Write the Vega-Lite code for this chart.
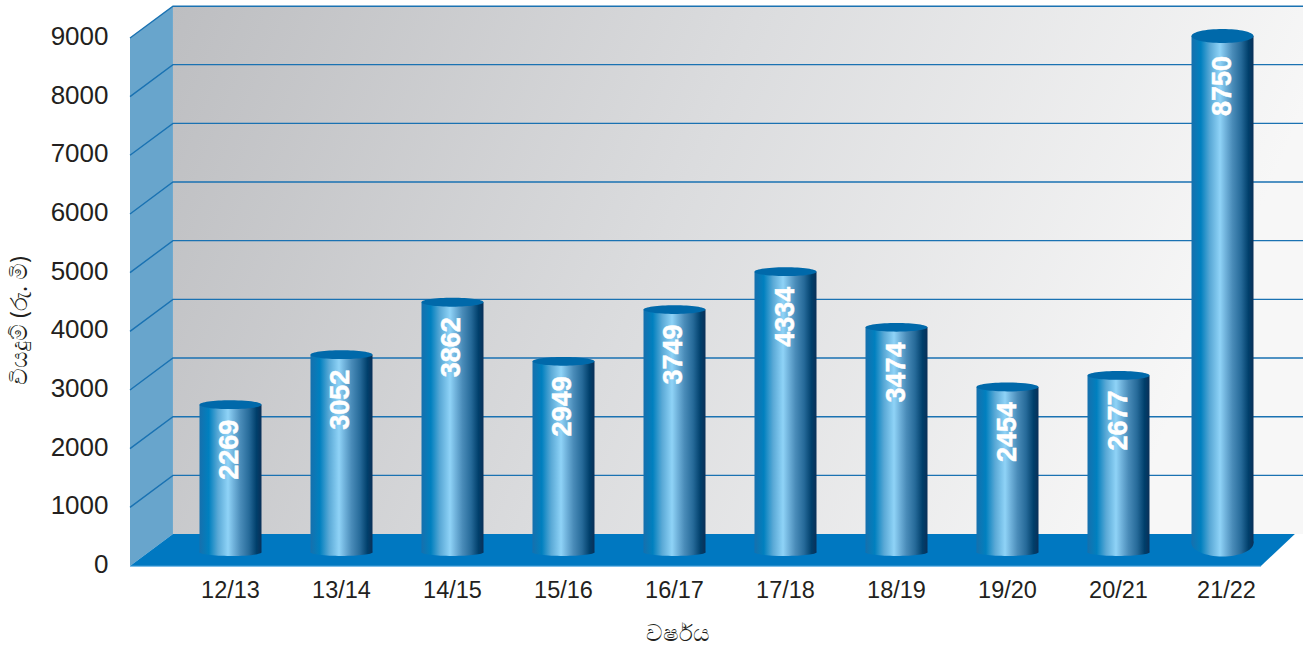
{
  "$schema": "https://vega.github.io/schema/vega-lite/v6.json",
  "width": 1173,
  "height": 566,
  "autosize": "none",
  "padding": {"left": 130, "top": 0, "right": 0, "bottom": 81},
  "background": "#ffffff",
  "config": {"view": {"stroke": null}, "font": "Liberation Sans"},
  "datasets": {
    "backWall": [{"p0": 0.387, "p1": 10.568, "v0": 545, "v1": 9540}],
    "sideWall": [
      {"p": 0, "low": 0, "high": 9000},
      {"p": 0.387, "low": 545, "high": 9540}
    ],
    "floor": [
      {"p": 0, "low": 0, "high": 0},
      {"p": 0.387, "low": 0, "high": 545},
      {"p": 10.189, "low": 0, "high": 545},
      {"p": 10.495, "low": 545, "high": 545}
    ],
    "gridLevels": [
      {"level": 1000, "p": 0, "v": 1000}, {"level": 1000, "p": 0.387, "v": 1545}, {"level": 1000, "p": 10.568, "v": 1545},
      {"level": 2000, "p": 0, "v": 2000}, {"level": 2000, "p": 0.387, "v": 2545}, {"level": 2000, "p": 10.568, "v": 2545},
      {"level": 3000, "p": 0, "v": 3000}, {"level": 3000, "p": 0.387, "v": 3545}, {"level": 3000, "p": 10.568, "v": 3545},
      {"level": 4000, "p": 0, "v": 4000}, {"level": 4000, "p": 0.387, "v": 4545}, {"level": 4000, "p": 10.568, "v": 4545},
      {"level": 5000, "p": 0, "v": 5000}, {"level": 5000, "p": 0.387, "v": 5545}, {"level": 5000, "p": 10.568, "v": 5545},
      {"level": 6000, "p": 0, "v": 6000}, {"level": 6000, "p": 0.387, "v": 6545}, {"level": 6000, "p": 10.568, "v": 6545},
      {"level": 7000, "p": 0, "v": 7000}, {"level": 7000, "p": 0.387, "v": 7545}, {"level": 7000, "p": 10.568, "v": 7545},
      {"level": 8000, "p": 0, "v": 8000}, {"level": 8000, "p": 0.387, "v": 8545}, {"level": 8000, "p": 10.568, "v": 8545},
      {"level": 9000, "p": 0, "v": 9000}, {"level": 9000, "p": 0.387, "v": 9540}, {"level": 9000, "p": 10.568, "v": 9540}
    ],
    "frontEdge": [{"p": 0, "v": -8}, {"p": 10.189, "v": -8}],
    "spending": [
      {"year": "12/13", "value": 2269},
      {"year": "13/14", "value": 3052},
      {"year": "14/15", "value": 3862},
      {"year": "15/16", "value": 2949},
      {"year": "16/17", "value": 3749},
      {"year": "17/18", "value": 4334},
      {"year": "18/19", "value": 3474},
      {"year": "19/20", "value": 2454},
      {"year": "20/21", "value": 2677},
      {"year": "21/22", "value": 8750}
    ]
  },
  "layer": [
    {
      "layer": [
        {
          "data": {"name": "backWall"},
          "mark": {
            "type": "rect",
            "fill": {
              "gradient": "linear", "x1": 0, "y1": 0, "x2": 1, "y2": 0.2,
              "stops": [
                {"offset": 0, "color": "#bdbec1"},
                {"offset": 0.5, "color": "#dbdcde"},
                {"offset": 1, "color": "#f7f7f7"}
              ]
            }
          },
          "encoding": {
            "x": {"field": "p0", "type": "quantitative", "scale": {"domain": [0, 10.568], "nice": false, "zero": false}, "axis": null},
            "x2": {"field": "p1"},
            "y": {
              "field": "v0", "type": "quantitative",
              "scale": {"domain": [0, 9647], "nice": false, "zero": false},
              "axis": {
                "orient": "left",
                "values": [0, 1000, 2000, 3000, 4000, 5000, 6000, 7000, 8000, 9000],
                "format": "d",
                "domain": false, "ticks": false, "grid": false,
                "labelFont": "Liberation Sans", "labelFontSize": 26, "labelColor": "#231f20",
                "labelPadding": 22, "labelOffset": -1.5,
                "title": "වියදුම් (රු. මි)",
                "titleFont": "Noto Sans", "titleFontSize": 23, "titleFontWeight": "normal", "titleColor": "#231f20",
                "titleX": -111, "titleY": 320, "titleAngle": 270, "titleBaseline": "middle", "titleAlign": "center"
              }
            },
            "y2": {"field": "v1"}
          }
        },
        {
          "data": {"name": "sideWall"},
          "mark": {"type": "area", "color": "#68a5cc", "opacity": 1},
          "encoding": {
            "x": {"field": "p", "type": "quantitative"},
            "y": {"field": "low", "type": "quantitative", "stack": null},
            "y2": {"field": "high"}
          }
        },
        {
          "data": {"name": "gridLevels"},
          "mark": {"type": "line", "color": "#1a72b2", "strokeWidth": 1.4, "interpolate": "linear"},
          "encoding": {
            "x": {"field": "p", "type": "quantitative"},
            "y": {"field": "v", "type": "quantitative"},
            "detail": {"field": "level"}
          }
        },
        {
          "data": {"name": "floor"},
          "mark": {"type": "area", "color": "#0078c1", "opacity": 1},
          "encoding": {
            "x": {"field": "p", "type": "quantitative"},
            "y": {"field": "low", "type": "quantitative", "stack": null},
            "y2": {"field": "high"}
          }
        },
        {
          "data": {"name": "frontEdge"},
          "mark": {"type": "line", "color": "#7dbde8", "strokeWidth": 1.2},
          "encoding": {
            "x": {"field": "p", "type": "quantitative"},
            "y": {"field": "v", "type": "quantitative"}
          }
        }
      ]
    },
    {
      "data": {"name": "spending"},
      "encoding": {
        "x": {
          "field": "year", "type": "nominal",
          "scale": {"type": "band", "range": [45, 1155], "paddingInner": 0.44144, "paddingOuter": 0.2207},
          "axis": {
            "orient": "bottom",
            "domain": false, "ticks": false, "grid": false, "labelAngle": 0,
            "labelFont": "Liberation Sans", "labelFontSize": 23.5, "labelColor": "#231f20",
            "labelPadding": 12, "labelBaseline": "top",
            "labelOffset": {"expr": "datum.value === '21/22' ? -3 : 0"},
            "title": "වර්ෂය",
            "titleFont": "Noto Sans", "titleFontSize": 23, "titleFontWeight": "normal", "titleColor": "#231f20",
            "titleX": 547, "titleY": 67, "titleBaseline": "middle", "titleAlign": "center"
          }
        }
      },
      "layer": [
        {
          "mark": {
            "type": "point", "filled": true, "size": 3844, "opacity": 1, "strokeWidth": 0,
            "xOffset": {"expr": "datum.value > 8000 ? -7 : 0"},
            "fill": {
              "gradient": "linear", "x1": 0, "y1": 0, "x2": 1, "y2": 0,
              "stops": [
                {"offset": 0, "color": "#1670ad"},
                {"offset": 0.15, "color": "#0080bf"},
                {"offset": 0.3, "color": "#5aa9d6"},
                {"offset": 0.46, "color": "#8fd3f7"},
                {"offset": 0.55, "color": "#70b2db"},
                {"offset": 0.66, "color": "#4a8cb9"},
                {"offset": 0.8, "color": "#266a99"},
                {"offset": 0.92, "color": "#003f6b"},
                {"offset": 1, "color": "#0a3058"}
              ]
            }
          },
          "encoding": {
            "y": {"datum": 0, "type": "quantitative", "scale": {"domain": [0, 2269, 2454, 2949, 4334, 8750], "range": [552.3, 404.7, 387, 361.3, 271.7, 36], "nice": false}, "axis": null},
            "shape": {
              "condition": {"test": "datum.value > 8000", "value": "M-1,-0.3A1,0.435,0,1,0,1,-0.3A1,0.435,0,1,0,-1,-0.3Z"},
              "value": "M-1,0A1,0.119,0,1,0,1,0A1,0.119,0,1,0,-1,0Z"
            }
          }
        },
        {
          "mark": {
            "type": "rect",
            "xOffset": {"expr": "datum.value > 8000 ? -7 : 0"},
            "x2Offset": {"expr": "datum.value > 8000 ? -7 : 0"},
            "y2Offset": {"expr": "datum.value > 8000 ? -9 : 0"},
            "fill": {
              "gradient": "linear", "x1": 0, "y1": 0, "x2": 1, "y2": 0,
              "stops": [
                {"offset": 0, "color": "#1670ad"},
                {"offset": 0.15, "color": "#0080bf"},
                {"offset": 0.3, "color": "#5aa9d6"},
                {"offset": 0.46, "color": "#8fd3f7"},
                {"offset": 0.55, "color": "#70b2db"},
                {"offset": 0.66, "color": "#4a8cb9"},
                {"offset": 0.8, "color": "#266a99"},
                {"offset": 0.92, "color": "#003f6b"},
                {"offset": 1, "color": "#0a3058"}
              ]
            }
          },
          "encoding": {
            "y": {"field": "value", "type": "quantitative", "stack": null},
            "y2": {"datum": 0}
          }
        },
        {
          "mark": {
            "type": "point", "filled": true, "size": 3844, "opacity": 1, "strokeWidth": 0,
            "color": "#0069aa",
            "xOffset": {"expr": "datum.value > 8000 ? -7 : 0"}
          },
          "encoding": {
            "y": {"field": "value", "type": "quantitative"},
            "shape": {
              "condition": {"test": "datum.value > 8000", "value": "M-1,0A1,0.226,0,1,0,1,0A1,0.226,0,1,0,-1,0Z"},
              "value": "M-1,0A1,0.142,0,1,0,1,0A1,0.142,0,1,0,-1,0Z"
            }
          }
        },
        {
          "mark": {
            "type": "text", "angle": 270, "align": "right", "baseline": "middle",
            "font": "Liberation Sans", "fontWeight": "bold", "fontSize": 27, "color": "#ffffff",
            "stroke": "#ffffff", "strokeWidth": 0.5,
            "dx": {"expr": "datum.value > 8000 ? -20 : -15"},
            "dy": {"expr": "datum.value > 8000 ? -7 : 0"}
          },
          "encoding": {
            "y": {"field": "value", "type": "quantitative"},
            "text": {"field": "value", "type": "quantitative", "format": "d"}
          }
        }
      ]
    }
  ],
  "resolve": {"scale": {"x": "independent", "y": "independent"}}
}
